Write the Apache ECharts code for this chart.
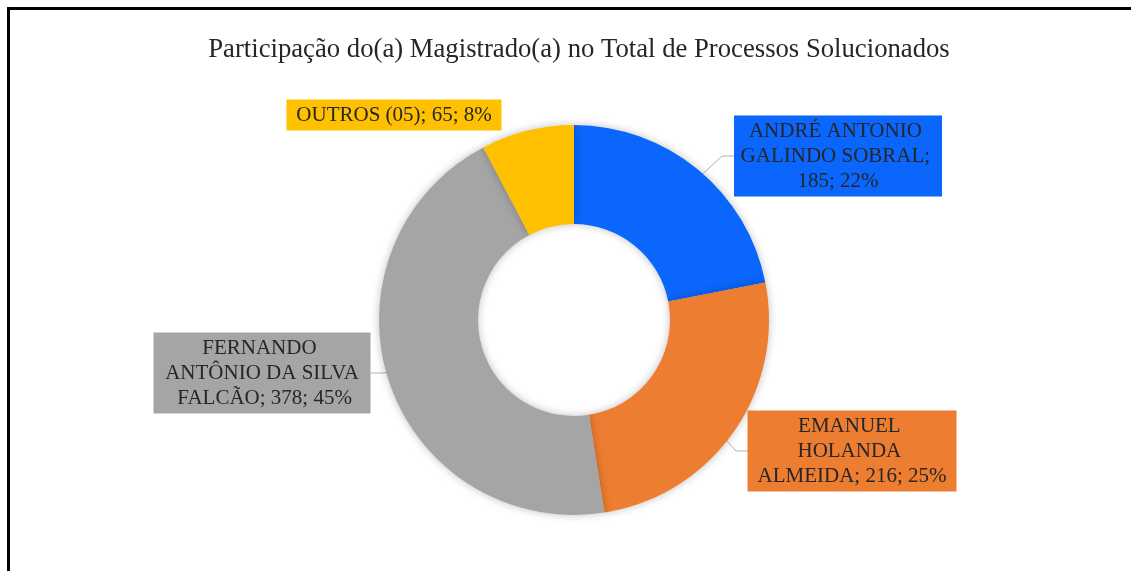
<!DOCTYPE html>
<html>
<head>
<meta charset="utf-8">
<script src="https://cdn.jsdelivr.net/npm/echarts@6/dist/echarts.min.js"></script>
<style>
  html, body { margin: 0; padding: 0; background: #fff; }
  #chart { width: 1131px; height: 571px; }
  #frame {
    position: absolute; left: 7px; top: 7px; width: 1140px; height: 580px;
    border-left: 3px solid #000; border-top: 3px solid #000; pointer-events: none;
  }
</style>
</head>
<body>
<div id="chart"></div>
<div id="frame"></div>
<script>
const names = ['ANDRÉ ANTONIO GALINDO SOBRAL', 'EMANUEL HOLANDA ALMEIDA', 'FERNANDO ANTÔNIO DA SILVA FALCÃO', 'OUTROS (05)']
const values = [185, 216, 378, 65]
const percents = [22, 25, 45, 8]

const colors = ['#0a66fc', '#ed7d31', '#a5a5a5', '#ffc000']
const pieCenter = [574, 320]
const pieRadius = [96, 195]
// box centres and text widths of the callouts
const boxes = [
  { cx: 838, cy: 156, w: 200, side: 'left', edge: 734 },
  { cx: 852, cy: 451, w: 201, side: 'left', edge: 748 },
  { cx: 262, cy: 373, w: 209, side: 'right', edge: 371 },
  { cx: 394, cy: 115, w: 207, side: 'none' }
]

const myChart = echarts.init(document.getElementById('chart'))

myChart.setOption({
  animation: false,
  color: colors,
  title: {
    text: 'Participação do(a) Magistrado(a) no Total de Processos Solucionados',
    left: 574,
    textAlign: 'center',
    top: 31,
    textStyle: {
      fontFamily: 'Liberation Serif',
      fontWeight: 'normal',
      fontSize: 26.7,
      color: '#262626'
    }
  },
  series: [{
    type: 'pie',
    center: pieCenter,
    radius: pieRadius,
    startAngle: 90,
    clockwise: true,
    avoidLabelOverlap: false,
    itemStyle: {
      shadowBlur: 8,
      shadowColor: 'rgba(0,0,0,0.25)'
    },
    label: {
      show: true,
      position: 'outside',
      fontFamily: 'Liberation Serif',
      fontSize: 21,
      lineHeight: 25,
      color: '#262626',
      padding: [3, 4],
      overflow: 'break'
    },
    labelLine: {
      show: true,
      lineStyle: { color: '#b0b0b0', width: 1 }
    },
    labelLayout: function (params) {
      const b = boxes[params.dataIndex]
      const out = { x: b.cx, y: b.cy, align: 'center', verticalAlign: 'middle' }
      if (b.side !== 'none' && params.labelLinePoints) {
        // start the leader in the middle of the ring, like the original
        const p0 = params.labelLinePoints[0]
        const k = (pieRadius[0] + pieRadius[1]) / 2 / pieRadius[1]
        const start = [pieCenter[0] + (p0[0] - pieCenter[0]) * k, pieCenter[1] + (p0[1] - pieCenter[1]) * k]
        const dir = b.side === 'left' ? -1 : 1
        out.labelLinePoints = [start, [b.edge + dir * 12, b.cy], [b.edge, b.cy]]
      }
      return out
    },
    data: names.map((n, i) => ({
      name: n,
      value: values[i],
      label: {
        width: boxes[i].w,
        backgroundColor: colors[i],
        formatter: n + '; ' + values[i] + '; ' + percents[i] + '%'
      },
      labelLine: { show: boxes[i].side !== 'none' }
    }))
  }]
})
</script>
</body>
</html>
